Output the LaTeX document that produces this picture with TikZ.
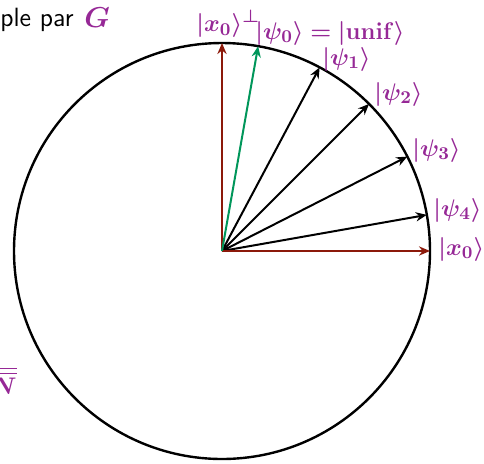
\documentclass[tikz,border=0pt]{standalone}
\usepackage{amsmath,bm}
\usetikzlibrary{arrows.meta}
\definecolor{lblpurple}{RGB}{150,40,150}
\definecolor{axred}{RGB}{140,25,10}
\definecolor{vgreen}{RGB}{0,150,90}
\begin{document}
\begin{tikzpicture}[x=0.5pt,y=-0.5pt,
  vec/.style={-{Stealth[length=5.5pt,width=4.6pt]}, line width=1pt},
  lbl/.style={text=lblpurple, font=\fontsize{12.5}{15}\selectfont, inner sep=0pt, anchor=west}]
\useasboundingbox (0,0) rectangle (484,463);
\clip (0,0) rectangle (484,463);
\coordinate (O) at (222,251);
\draw[line width=1.2pt] (O) circle [radius=104pt];
\coordinate (Tx)  at ([shift={(O)}] 0:104pt);
\coordinate (Tp)  at ([shift={(O)}] 90:104pt);
\coordinate (T0)  at ([shift={(O)}] 80:104pt);
\coordinate (T1)  at ([shift={(O)}] 62:104pt);
\coordinate (T2)  at ([shift={(O)}] 45:104pt);
\coordinate (T3)  at ([shift={(O)}] 27:104pt);
\coordinate (T4)  at ([shift={(O)}] 10:104pt);
\draw[vec] (O) -- (T1);
\draw[vec] (O) -- (T2);
\draw[vec] (O) -- (T3);
\draw[vec] (O) -- (T4);
\draw[vec, axred] (O) -- (Tx);
\draw[vec, axred] (O) -- (Tp);
\draw[vec, vgreen] (O) -- (T0);
\node[lbl] (Lp) at (196,24) {$\bm{|x_0\rangle}^{\bm{\perp}}$};
\node[lbl] (L0) at (255,33) {$\bm{|\psi_0\rangle = |}\mathbf{unif}\bm{\rangle}$};
\node[lbl] (L1) at (322,59) {$\bm{|\psi_1\rangle}$};
\node[lbl] (L2) at (374,94) {$\bm{|\psi_2\rangle}$};
\node[lbl] (L3) at (412,150) {$\bm{|\psi_3\rangle}$};
\node[lbl] (L4) at (433,210) {$\bm{|\psi_4\rangle}$};
\node[lbl] (Lx) at (438,249) {$\bm{|x_0\rangle}$};
\node[anchor=base west, inner sep=0pt, font=\sffamily\fontsize{13.2}{15}\selectfont] (T) at (0,26) {ple par};
\node[anchor=base west, inner sep=0pt, text=lblpurple, font=\fontsize{14}{16}\selectfont] (G) at (84,27) {$\bm{G}$};
\node[anchor=base east, inner sep=0pt, text=lblpurple, font=\fontsize{12.5}{15}\selectfont] (N) at (17,394) {$\overline{\sqrt{\bm{N}}}$};
\end{tikzpicture}
\end{document}
